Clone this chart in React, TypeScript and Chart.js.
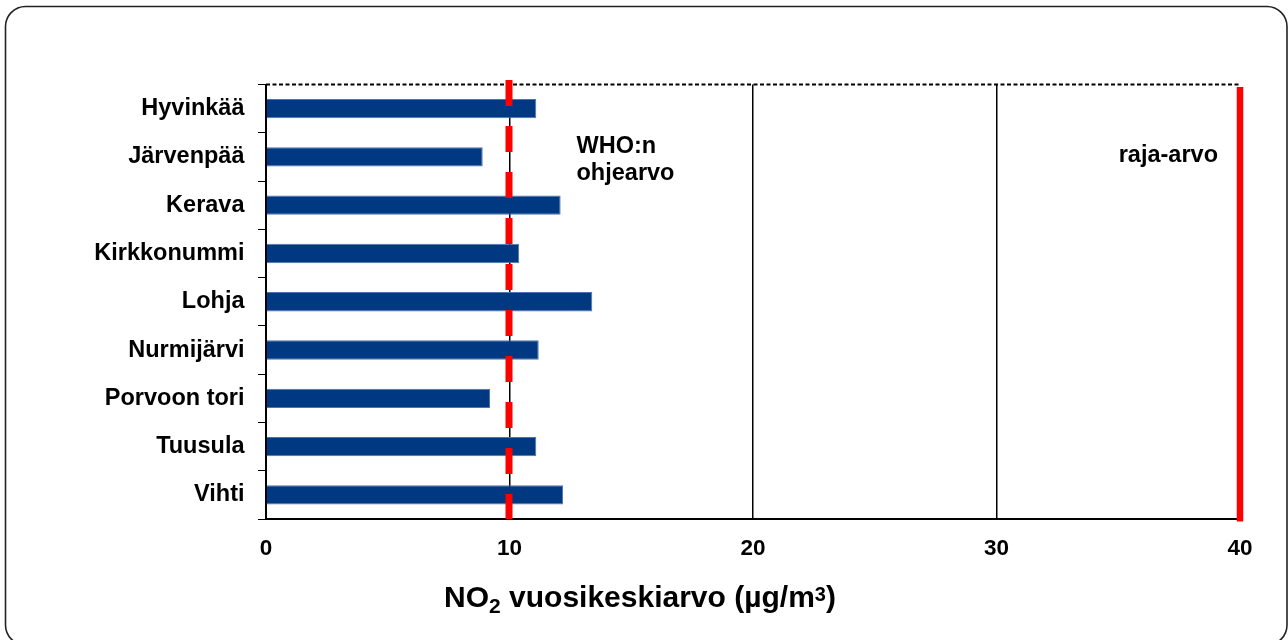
import React, { useEffect, useRef } from "react";
import { Chart, registerables } from "chart.js";

Chart.register(...registerables);

const categories = [
  "Hyvinkää",
  "Järvenpää",
  "Kerava",
  "Kirkkonummi",
  "Lohja",
  "Nurmijärvi",
  "Porvoon tori",
  "Tuusula",
  "Vihti",
];
const no2Values = [11.1, 8.9, 12.1, 10.4, 13.4, 11.2, 9.2, 11.1, 12.2];
const xMin = 0;
const xMax = 40;
const xStep = 10;
const whoGuideline = 10;
const limitValue = 40;
const whoLabelLines = ["WHO:n", "ohjearvo"];
const limitLabel = "raja-arvo";
const axisTitleParts = [
  { text: "NO", kind: "normal" },
  { text: "2", kind: "sub" },
  { text: " vuosikeskiarvo (µg/m", kind: "normal" },
  { text: "3", kind: "sup" },
  { text: ")", kind: "normal" },
];

const FONT = "Arial, 'Liberation Sans', Helvetica, sans-serif";

const overlayPlugin = {
  id: "overlay",
  beforeDraw(chart: any) {
    const ctx = chart.ctx;
    const W = chart.width;
    const H = chart.height;
    ctx.save();
    ctx.fillStyle = "#ffffff";
    ctx.fillRect(0, 0, W, H);
    // card frame
    const x0 = 5.5, y0 = 6.5, x1 = 1287, y1 = 645, r = 20;
    ctx.beginPath();
    ctx.moveTo(x0 + r, y0);
    ctx.lineTo(x1 - r, y0);
    ctx.arcTo(x1, y0, x1, y0 + r, r);
    ctx.lineTo(x1, y1 - r);
    ctx.arcTo(x1, y1, x1 - r, y1, r);
    ctx.lineTo(x0 + r, y1);
    ctx.arcTo(x0, y1, x0, y1 - r, r);
    ctx.lineTo(x0, y0 + r);
    ctx.arcTo(x0, y0, x0 + r, y0, r);
    ctx.closePath();
    ctx.strokeStyle = "#222222";
    ctx.lineWidth = 1.6;
    ctx.stroke();
    ctx.restore();
  },
  afterDatasetsDraw(chart: any) {
    const ctx = chart.ctx;
    const area = chart.chartArea;
    const xs = chart.scales.x;
    ctx.save();
    // top dashed frame
    ctx.beginPath();
    ctx.setLineDash([4, 2.5]);
    ctx.strokeStyle = "#000000";
    ctx.lineWidth = 2;
    ctx.moveTo(area.left, area.top);
    ctx.lineTo(area.right, area.top);
    ctx.stroke();
    // WHO guideline: red dashed
    const xw = xs.getPixelForValue(whoGuideline) - 0.5;
    ctx.beginPath();
    ctx.setLineDash([26, 20]);
    ctx.lineCap = "butt";
    ctx.strokeStyle = "#FF0000";
    ctx.lineWidth = 7;
    ctx.moveTo(xw, area.top - 4.5);
    ctx.lineTo(xw, area.bottom);
    ctx.stroke();
    // limit value: red solid
    const xl = xs.getPixelForValue(limitValue);
    ctx.beginPath();
    ctx.setLineDash([]);
    ctx.lineWidth = 6.5;
    ctx.moveTo(xl, area.top + 2.5);
    ctx.lineTo(xl, area.bottom + 2.5);
    ctx.stroke();
    ctx.restore();
  },
  afterDraw(chart: any) {
    const ctx = chart.ctx;
    const xs = chart.scales.x;
    ctx.save();
    ctx.fillStyle = "#000000";
    ctx.textBaseline = "alphabetic";
    ctx.font = `bold 23.5px ${FONT}`;
    // WHO label
    ctx.textAlign = "left";
    const xw = xs.getPixelForValue(whoGuideline) + 67;
    ctx.fillText(whoLabelLines[0], xw, 153);
    ctx.fillText(whoLabelLines[1], xw, 180);
    // limit label
    ctx.textAlign = "right";
    ctx.fillText(limitLabel, xs.getPixelForValue(limitValue) - 22, 161.5);
    // axis title
    const fonts: any = {
      normal: `bold 30px ${FONT}`,
      sub: `bold 21px ${FONT}`,
      sup: `bold 20px ${FONT}`,
    };
    const offs: any = { normal: 0, sub: 6.5, sup: -6 };
    let total = 0;
    const widths = axisTitleParts.map((p) => {
      ctx.font = fonts[p.kind];
      const w = ctx.measureText(p.text).width;
      total += w;
      return w;
    });
    let x = 640 - total / 2;
    const base = 606.5;
    ctx.textAlign = "left";
    axisTitleParts.forEach((p, i) => {
      ctx.font = fonts[p.kind];
      ctx.fillText(p.text, x, base + offs[p.kind]);
      x += widths[i];
    });
    ctx.restore();
  },
};

export default function App() {
  const canvasRef = useRef<HTMLCanvasElement | null>(null);

  useEffect(() => {
    if (!canvasRef.current) return;
    const chart = new Chart(canvasRef.current, {
      type: "bar",
      data: {
        labels: categories,
        datasets: [
          {
            label: "NO2",
            data: no2Values,
            backgroundColor: "#003882",
            borderColor: "#4f74ad",
            borderWidth: 1,
            borderSkipped: "start",
            categoryPercentage: 1,
            barPercentage: 0.4,
          },
        ],
      },
      options: {
        indexAxis: "y",
        responsive: false,
        animation: false,
        devicePixelRatio: 1,
        layout: { padding: { top: 84.5, right: 48, bottom: 0, left: 0 } },
        plugins: {
          legend: { display: false },
          tooltip: { enabled: false },
          title: { display: false },
        },
        scales: {
          x: {
            type: "linear",
            min: xMin,
            max: xMax,
            position: "bottom",
            afterFit: (scale: any) => {
              scale.height = 121;
            },
            ticks: {
              stepSize: xStep,
              color: "#000000",
              font: { family: FONT, size: 22.5, weight: "bold" },
              padding: 16,
              maxRotation: 0,
            },
            grid: {
              drawTicks: false,
              color: (c: any) =>
                c.tick && c.tick.value > xMin && c.tick.value < xMax
                  ? "#000000"
                  : "rgba(0,0,0,0)",
              lineWidth: 1.5,
            },
            border: { display: true, color: "#000000", width: 2 },
          },
          y: {
            type: "category",
            position: "left",
            afterFit: (scale: any) => {
              scale.width = 266;
            },
            ticks: {
              color: "#000000",
              font: { family: FONT, size: 23.5, weight: "bold" },
              padding: 13.5,
              autoSkip: false,
            },
            grid: {
              offset: true,
              drawOnChartArea: false,
              drawTicks: true,
              tickLength: 8,
              color: "#000000",
              lineWidth: 1,
            },
            border: { display: true, color: "#000000", width: 2, dash: [4, 2.5] },
          },
        },
      },
      plugins: [overlayPlugin],
    } as any);
    return () => chart.destroy();
  }, []);

  return (
    <div style={{ position: "fixed", left: 0, top: 0, width: 1288, height: 640, background: "#fff" }}>
      <canvas ref={canvasRef} width={1288} height={640} style={{ display: "block" }} />
    </div>
  );
}
